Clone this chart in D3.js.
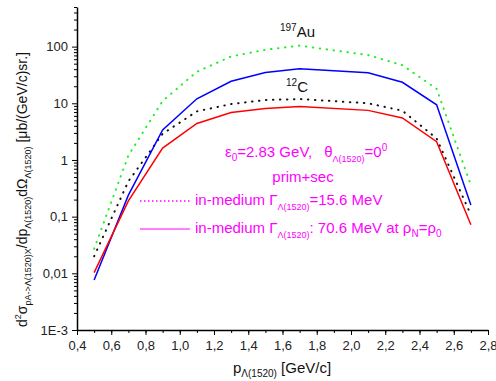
<!DOCTYPE html>
<html>
<head>
<meta charset="utf-8">
<script src="https://cdn.jsdelivr.net/npm/d3@7"></script>
<style>
  body { margin: 0; background: #fff; }
  svg { font-family: "Liberation Sans", Arial, sans-serif; }
</style>
</head>
<body>
<svg id="chart" width="496" height="381"></svg>
<script>
// momentum of Lambda(1520), GeV/c
var pValues = [0.5, 0.7, 0.9, 1.1, 1.3, 1.5, 1.7, 2.1, 2.3, 2.5, 2.7];
// 197Au, in-medium width 70.6 MeV (blue solid)
var auWide = [0.0076, 0.24, 3.4, 12, 24.5, 35, 40.5, 34.5, 23.5, 9.4, 0.16];
// 12C, in-medium width 70.6 MeV (red solid)
var cWide = [0.0103, 0.19, 1.62, 4.4, 6.9, 8.1, 8.8, 7.5, 5.5, 2.1, 0.072];
// 12C, width 15.6 MeV (black dotted)
var cNarrow = [0.020, 0.42, 2.9, 7.2, 9.7, 11.4, 11.9, 10, 7.4, 2.4, 0.108];
// 197Au, width 15.6 MeV (green dotted)
var auNarrow = [0.027, 1.2, 11, 36, 67, 88, 104, 71, 47, 18, 0.36];

var xTicks = [0.4, 0.6, 0.8, 1.0, 1.2, 1.4, 1.6, 1.8, 2.0, 2.2, 2.4, 2.6, 2.8];
var yTicks = [0.001, 0.01, 0.1, 1, 10, 100];
var yTickLabels = ["1E-3", "0,01", "0,1", "1", "10", "100"];

var svg = d3.select("#chart");
var margin = { top: 7, left: 77, right: 8, bottom: 51 };
var width = 496, height = 381;

var x = d3.scaleLinear().domain([0.4, 2.8]).range([margin.left, width - margin.right]);
var y = d3.scaleLog().domain([0.001, 500]).range([height - margin.bottom, margin.top]);

// x axis: major ticks with labels, minor ticks between
var xMinor = d3.range(0.4, 2.81, 0.1);
svg.append("g")
   .attr("transform", `translate(0,${y(0.001)})`)
   .call(d3.axisBottom(x).tickValues(xMinor).tickSize(3).tickFormat(""))
   .call(g => g.select(".domain").remove());
svg.append("g")
   .attr("transform", `translate(0,${y(0.001)})`)
   .call(d3.axisBottom(x).tickValues(xTicks).tickSize(5).tickSizeOuter(0).tickPadding(6)
           .tickFormat(d => d3.format(".1f")(d).replace(".", ",")))
   .call(g => g.selectAll("text").style("font-size", "13px").attr("fill", "#222"))
   .call(g => g.select(".domain").attr("stroke-width", 1.5));

// y axis: decades plus minor ticks
var yMinor = [];
yTicks.forEach(t => { for (var k = 2; k <= 9; k++) if (t * k <= 500) yMinor.push(t * k); });
svg.append("g")
   .attr("transform", `translate(${x(0.4)},0)`)
   .call(d3.axisLeft(y).tickValues(yMinor).tickSize(3).tickFormat(""))
   .call(g => g.select(".domain").remove());
svg.append("g")
   .attr("transform", `translate(${x(0.4)},0)`)
   .call(d3.axisLeft(y).tickValues(yTicks).tickSize(5).tickSizeOuter(0).tickPadding(4)
           .tickFormat((d, i) => yTickLabels[i]))
   .call(g => g.selectAll("text").style("font-size", "13px").attr("fill", "#222"))
   .call(g => g.select(".domain").attr("stroke-width", 1.5));

var line = d3.line()
  .x((d, i) => x(pValues[i]))
  .y(d => y(d));

function drawSeries(vals, color, dash, w) {
  svg.append("path")
     .datum(vals)
     .attr("fill", "none")
     .attr("stroke", color)
     .attr("stroke-width", w)
     .attr("stroke-linecap", dash ? "round" : "butt")
     .attr("stroke-dasharray", dash)
     .attr("d", line);
}
drawSeries(auNarrow, "#22ee22", "0.5,6.5", 2);
drawSeries(cNarrow, "#111", "0.5,6.5", 2);
drawSeries(auWide, "#0000ff", null, 1.5);
drawSeries(cWide, "#ff0000", null, 1.5);

// nucleus labels
var au = svg.append("text").attr("x", 280).attr("y", 37).style("font-size", "15px").attr("fill", "#111");
au.append("tspan").attr("dy", -6).style("font-size", "10px").text("197");
au.append("tspan").attr("dy", 6).text("Au");
var cl = svg.append("text").attr("x", 286).attr("y", 92).style("font-size", "15px").attr("fill", "#111");
cl.append("tspan").attr("dy", -6).style("font-size", "10px").text("12");
cl.append("tspan").attr("dy", 6).text("C");

// magenta annotations
var mag = "#ff00ff";
var t1 = svg.append("text").attr("x", 225).attr("y", 157).style("font-size", "15px").attr("fill", mag);
t1.append("tspan").text("ε");
t1.append("tspan").attr("dy", 4).style("font-size", "10px").text("0");
t1.append("tspan").attr("dy", -4).text("=2.83 GeV,");
t1.append("tspan").attr("dx", 12).text("θ");
t1.append("tspan").attr("dy", 5).style("font-size", "9px").text("Λ(1520)");
t1.append("tspan").attr("dy", -5).text("=0");
t1.append("tspan").attr("dy", -6).style("font-size", "10px").text("0");

svg.append("text").attr("x", 303).attr("y", 182).attr("text-anchor", "middle")
   .style("font-size", "15px").attr("fill", mag).text("prim+sec");

svg.append("line").attr("x1", 140).attr("x2", 192).attr("y1", 201).attr("y2", 201)
   .attr("stroke", mag).attr("stroke-width", 1.5).attr("stroke-dasharray", "1.5,2.5");
var t2 = svg.append("text").attr("x", 195).attr("y", 205).style("font-size", "15px").attr("fill", mag);
t2.append("tspan").text("in-medium Γ");
t2.append("tspan").attr("dy", 5).style("font-size", "9px").text("Λ(1520)");
t2.append("tspan").attr("dy", -5).text("=15.6 MeV");

svg.append("line").attr("x1", 140).attr("x2", 190).attr("y1", 229).attr("y2", 229)
   .attr("stroke", mag).attr("stroke-width", 1.2);
var t3 = svg.append("text").attr("x", 195).attr("y", 233).style("font-size", "15px").attr("fill", mag);
t3.append("tspan").text("in-medium Γ");
t3.append("tspan").attr("dy", 5).style("font-size", "9px").text("Λ(1520)");
t3.append("tspan").attr("dy", -5).text(": 70.6 MeV at ρ");
t3.append("tspan").attr("dy", 4).style("font-size", "10px").text("N");
t3.append("tspan").attr("dy", -4).text("=ρ");
t3.append("tspan").attr("dy", 4).style("font-size", "10px").text("0");

// axis titles
var xl = svg.append("text").attr("x", 233).attr("y", 373).style("font-size", "15px").attr("fill", "#111");
xl.append("tspan").text("p");
xl.append("tspan").attr("dy", 4).style("font-size", "10px").text("Λ(1520)");
xl.append("tspan").attr("dy", -4).text(" [GeV/c]");

var yl = svg.append("text")
  .attr("transform", "translate(27,327) rotate(-90)")
  .style("font-size", "14px").attr("fill", "#111");
yl.append("tspan").text("d");
yl.append("tspan").attr("dy", -6).style("font-size", "9px").text("2");
yl.append("tspan").attr("dy", 6).text("σ");
yl.append("tspan").attr("dy", 4).style("font-size", "9px").text("pA->Λ(1520)X");
yl.append("tspan").attr("dy", -4).text("/dp");
yl.append("tspan").attr("dy", 4).style("font-size", "9px").text("Λ(1520)");
yl.append("tspan").attr("dy", -4).text("dΩ");
yl.append("tspan").attr("dy", 4).style("font-size", "9px").text("Λ(1520)");
yl.append("tspan").attr("dy", -4).text(" [μb/(GeV/c)sr.]");
</script>
</body>
</html>
